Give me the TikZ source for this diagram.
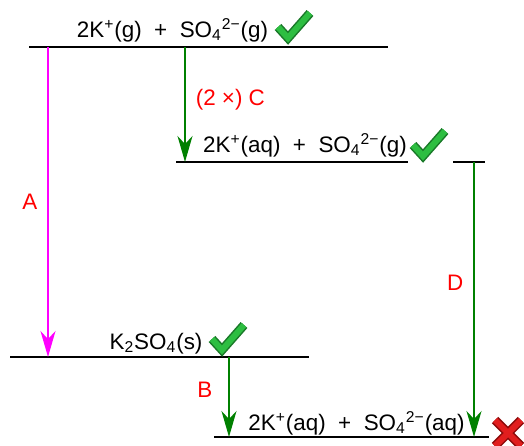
\documentclass[tikz,border=0pt]{standalone}
\usepackage{fontspec}
\setmainfont{Liberation Sans}
\usetikzlibrary{arrows.meta}
\definecolor{stepgreen}{RGB}{0,128,0}
\definecolor{steppink}{RGB}{255,0,255}
\definecolor{tickgreen}{RGB}{45,190,65}
\definecolor{tickdark}{RGB}{25,120,40}
\definecolor{crossred}{RGB}{225,30,30}
\definecolor{crossdark}{RGB}{140,10,10}

\begin{document}
\begin{tikzpicture}[x=0.5pt,y=-0.5pt,
  font=\fontsize{11.2}{13}\selectfont,
  level/.style={line width=0.9pt},
  stepdown/.style={line width=0.8pt,-{Stealth[length=13pt,width=7.5pt,inset=4pt]}},
  lab/.style={text=red,inner sep=0pt},
  species/.style={anchor=base,inner sep=0pt}]
\useasboundingbox (0,0) rectangle (524,445);
\def\checkpath{++(-10,-11) -- ++(10,11) -- ++(22,-25)}
\def\crosspath{++(-13,-13) -- ++(26,26) ++(0,-26) -- ++(-26,26)}

% energy levels
\coordinate (gasL) at (29,47);   \coordinate (gasR) at (388,47);
\coordinate (hydL) at (176,162); \coordinate (hydM) at (408,162);
\coordinate (hydN) at (453,162); \coordinate (hydR) at (485,162);
\coordinate (solL) at (10,357);  \coordinate (solR) at (309,357);
\coordinate (aqL) at (214,437);  \coordinate (aqR) at (489,437);
\draw[level] (gasL) -- (gasR);
\draw[level] (hydL) -- (hydM) (hydN) -- (hydR);
\draw[level] (solL) -- (solR);
\draw[level] (aqL) -- (aqR);

\node[species] (gas) at (172.5,37) {2K\textsuperscript{+}(g)\ \ +\ \ SO\textsubscript{4}\textsuperscript{2−}(g)};
\node[species] (hyd) at (305,152) {2K\textsuperscript{+}(aq)\ \ +\ \ SO\textsubscript{4}\textsuperscript{2−}(g)};
\node[species] (sol) at (156,349) {K\textsubscript{2}SO\textsubscript{4}(s)};
\node[species] (aq) at (356.5,430) {2K\textsuperscript{+}(aq)\ \ +\ \ SO\textsubscript{4}\textsuperscript{2−}(aq)};

% steps
\coordinate (Atop) at (48,47);   \coordinate (Abot) at (48,357);
\coordinate (Ctop) at (185,47);  \coordinate (Cbot) at (185,162);
\coordinate (Dtop) at (474,162); \coordinate (Dbot) at (474,437);
\coordinate (Btop) at (229,357); \coordinate (Bbot) at (229,437);
\draw[stepdown,steppink] (Atop) -- node[lab,left=5pt]{A} (Abot);
\draw[stepdown,stepgreen] (Ctop) -- node[lab,pos=0.46,right=5pt]{(2 ×) C} (Cbot);
\draw[stepdown,stepgreen] (Dtop) -- node[lab,pos=0.44,left=5pt]{D} (Dbot);
\draw[stepdown,stepgreen] (Btop) -- node[lab,pos=0.41,left=8pt]{B} (Bbot);

% ticks and cross
\coordinate (tick1) at (288,38);
\coordinate (tick2) at (423,156);
\coordinate (tick3) at (222,350);
\coordinate (cross) at (508,433);
\foreach \t in {tick1,tick2,tick3}{
  \draw[tickdark,line width=4.5pt] (\t) \checkpath;
  \draw[tickgreen,line width=3pt] (\t) \checkpath;
}
\draw[crossdark,line width=4.5pt] (cross) \crosspath;
\draw[crossred,line width=3pt] (cross) \crosspath;
\end{tikzpicture}
\end{document}
